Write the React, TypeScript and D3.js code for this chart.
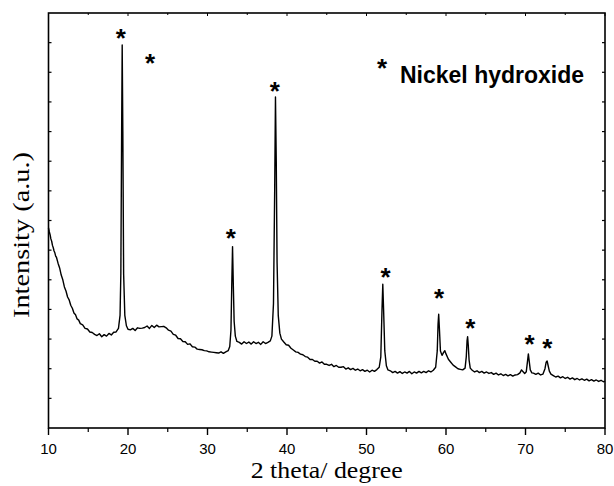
import * as d3 from "d3"

// XRD scan: [2 theta, counts]
const xrdScan: [number, number][] = [
  [10.0, 675], [10.1, 662], [10.2, 652], [10.3, 638], [10.4, 630], [10.5, 616], [10.6, 608], [10.7, 597],
  [10.8, 591], [10.9, 580], [11.0, 576], [11.2, 556], [11.4, 540], [11.6, 516], [11.8, 500], [12.0, 476],
  [12.2, 462], [12.4, 442], [12.6, 432], [12.8, 414], [13.0, 404], [13.2, 388], [13.4, 382], [13.6, 368],
  [13.8, 364], [14.0, 352], [14.3, 348], [14.6, 336], [14.9, 334], [15.2, 324], [15.5, 322], [15.8, 316],
  [16.1, 312], [16.4, 318], [16.7, 308], [17.0, 315], [17.3, 310], [17.6, 319], [17.9, 314], [18.2, 323],
  [18.5, 324], [18.8, 336], [19.0, 380], [19.1, 520], [19.2, 1000], [19.27, 1292], [19.35, 1000], [19.45, 520],
  [19.6, 380], [19.8, 345], [20.0, 333], [20.3, 331], [20.6, 336], [20.9, 329], [21.2, 338], [21.5, 336],
  [21.8, 337], [22.1, 339], [22.4, 344], [22.7, 336], [23.0, 346], [23.3, 339], [23.6, 347], [23.9, 341],
  [24.2, 342], [24.5, 343], [24.8, 338], [25.1, 330], [25.4, 327], [25.7, 316], [26.0, 313], [26.3, 302],
  [26.6, 301], [26.9, 292], [27.2, 291], [27.5, 282], [27.8, 284], [28.1, 274], [28.4, 273], [28.7, 266],
  [29.0, 265], [29.3, 264], [29.6, 261], [29.9, 260], [30.2, 257], [30.5, 256], [30.8, 255], [31.1, 254],
  [31.4, 253], [31.7, 257], [32.0, 252], [32.3, 257], [32.6, 261], [32.8, 275], [32.95, 330], [33.05, 480],
  [33.15, 612], [33.25, 480], [33.35, 360], [33.5, 310], [33.7, 292], [34.0, 289], [34.3, 283], [34.6, 291],
  [34.9, 285], [35.2, 290], [35.5, 283], [35.8, 291], [36.1, 285], [36.4, 289], [36.7, 282], [37.0, 291],
  [37.3, 285], [37.6, 289], [37.9, 294], [38.1, 310], [38.3, 420], [38.45, 800], [38.55, 1117], [38.65, 900],
  [38.75, 560], [38.9, 380], [39.1, 320], [39.3, 300], [39.6, 290], [39.9, 281], [40.2, 279], [40.5, 269],
  [40.8, 263], [41.1, 257], [41.4, 255], [41.7, 249], [42.0, 247], [42.3, 241], [42.6, 239], [42.9, 231],
  [43.2, 231], [43.5, 225], [43.8, 225], [44.1, 219], [44.4, 223], [44.7, 215], [45.0, 215], [45.3, 211],
  [45.6, 215], [45.9, 207], [46.2, 211], [46.5, 205], [46.8, 205], [47.1, 207], [47.4, 199], [47.7, 203],
  [48.0, 197], [48.3, 201], [48.6, 195], [48.9, 199], [49.2, 193], [49.5, 197], [49.8, 191], [50.1, 195],
  [50.4, 189], [50.7, 195], [51.0, 191], [51.3, 197], [51.6, 205], [51.8, 240], [51.95, 400], [52.05, 485],
  [52.15, 400], [52.3, 260], [52.5, 210], [52.7, 196], [53.0, 193], [53.3, 187], [53.6, 191], [53.9, 185],
  [54.2, 190], [54.5, 184], [54.8, 189], [55.1, 185], [55.4, 191], [55.7, 183], [56.0, 189], [56.3, 185],
  [56.6, 191], [56.9, 186], [57.2, 191], [57.5, 187], [57.8, 193], [58.1, 189], [58.4, 195], [58.7, 205],
  [58.9, 260], [59.0, 350], [59.08, 384], [59.18, 330], [59.3, 260], [59.5, 245], [59.7, 255], [59.85, 261],
  [60.0, 250], [60.3, 232], [60.6, 222], [60.9, 212], [61.2, 206], [61.5, 200], [61.8, 198], [62.1, 196],
  [62.4, 202], [62.55, 240], [62.65, 295], [62.72, 308], [62.8, 280], [62.9, 230], [63.05, 202], [63.3, 195],
  [63.6, 189], [63.9, 193], [64.2, 187], [64.5, 191], [64.8, 185], [65.1, 189], [65.4, 184], [65.7, 187],
  [66.0, 181], [66.3, 185], [66.6, 179], [66.9, 183], [67.2, 177], [67.5, 181], [67.8, 176], [68.1, 180],
  [68.4, 175], [68.7, 179], [69.0, 180], [69.3, 186], [69.5, 196], [69.7, 190], [69.9, 184], [70.1, 190],
  [70.25, 225], [70.36, 250], [70.47, 225], [70.6, 196], [70.8, 186], [71.0, 185], [71.3, 181], [71.6, 185],
  [71.9, 179], [72.2, 182], [72.45, 200], [72.6, 222], [72.72, 226], [72.85, 210], [73.0, 192], [73.2, 182],
  [73.5, 177], [73.8, 172], [74.1, 175], [74.4, 169], [74.7, 173], [75.0, 167], [75.3, 171], [75.6, 165],
  [75.9, 169], [76.2, 163], [76.5, 167], [76.8, 162], [77.1, 166], [77.4, 161], [77.7, 165], [78.0, 159],
  [78.3, 163], [78.6, 158], [78.9, 162], [79.2, 157], [79.5, 161], [79.8, 156], [80.0, 158],
]

// asterisk markers above the Ni(OH)2 reflections
const starTheta = [19.11, 22.76, 32.94, 38.47, 52.39, 59.14, 63.07, 70.51, 72.73]
const starCounts = [1332, 1248, 658, 1154, 527, 454, 354, 300, 287]

const xMajorTicks = [10, 20, 30, 40, 50, 60, 70, 80]
const xMinorTicks = [15, 25, 35, 45, 55, 65, 75]
const yTicks = d3.range(100, 1400, 100)

const W = 614
const H = 486
const left = 48.5
const right = 605
const top = 13
const bottom = 428

export default function App() {
  const x = d3.scaleLinear().domain([10, 80]).range([left, right])
  const y = d3.scaleLinear().domain([0, 1400]).range([bottom, top])

  const line = d3
    .line<[number, number]>()
    .x((d) => x(d[0]))
    .y((d) => y(d[1]))

  const sans = "'Liberation Sans', Arial, sans-serif"
  const serif = "'Liberation Serif', 'Times New Roman', serif"

  return (
    <svg width={W} height={H} style={{ position: "absolute", left: 0, top: 0, background: "#fff" }}>
      <path d={line(xrdScan) || ""} fill="none" stroke="#000" strokeWidth={1.4} strokeLinejoin="round" />

      {/* frame */}
      <rect x={left} y={top} width={right - left} height={bottom - top} fill="none" stroke="#000" strokeWidth={1.6} />

      {/* x ticks, bottom outward, top inward */}
      {xMajorTicks.map((t) => (
        <g key={"M" + t}>
          <line x1={x(t)} x2={x(t)} y1={bottom} y2={bottom + 7} stroke="#000" strokeWidth={1.4} />
          <line x1={x(t)} x2={x(t)} y1={top} y2={top + 3} stroke="#000" strokeWidth={1} />
          <text x={x(t)} y={454} textAnchor="middle" fontFamily={sans} fontSize={15} fill="#000">
            {t}
          </text>
        </g>
      ))}
      {xMinorTicks.map((t) => (
        <g key={"m" + t}>
          <line x1={x(t)} x2={x(t)} y1={bottom} y2={bottom + 4} stroke="#000" strokeWidth={1.2} />
          <line x1={x(t)} x2={x(t)} y1={top} y2={top + 2} stroke="#000" strokeWidth={1} />
        </g>
      ))}

      {/* y ticks, inward on both sides, no labels */}
      {yTicks.map((t) => (
        <g key={"y" + t}>
          <line x1={left} x2={left + 3} y1={y(t)} y2={y(t)} stroke="#000" strokeWidth={1.2} />
          <line x1={right - 3} x2={right} y1={y(t)} y2={y(t)} stroke="#000" strokeWidth={1.2} />
        </g>
      ))}

      {/* peak markers */}
      {starTheta.map((t, i) => (
        <text
          key={"s" + i}
          x={x(t)}
          y={y(starCounts[i]) + 14}
          textAnchor="middle"
          fontFamily={sans}
          fontWeight="bold"
          fontSize={26}
          fill="#000"
        >
          *
        </text>
      ))}

      {/* legend */}
      <text x={382} y={77} textAnchor="middle" fontFamily={sans} fontWeight="bold" fontSize={26} fill="#000">
        *
      </text>
      <text x={400} y={83} fontFamily={sans} fontWeight="bold" fontSize={23} fill="#000">
        Nickel hydroxide
      </text>

      {/* axis titles */}
      <text
        x={(left + right) / 2}
        y={478}
        textAnchor="middle"
        fontFamily={serif}
        fontSize={23}
        textLength={152}
        lengthAdjust="spacingAndGlyphs"
        fill="#000"
      >
        2 theta/ degree
      </text>
      <text
        transform={`translate(29, 235) rotate(-90)`}
        textAnchor="middle"
        fontFamily={serif}
        fontSize={23}
        textLength={166}
        lengthAdjust="spacingAndGlyphs"
        fill="#000"
      >
        Intensity (a.u.)
      </text>
    </svg>
  )
}
